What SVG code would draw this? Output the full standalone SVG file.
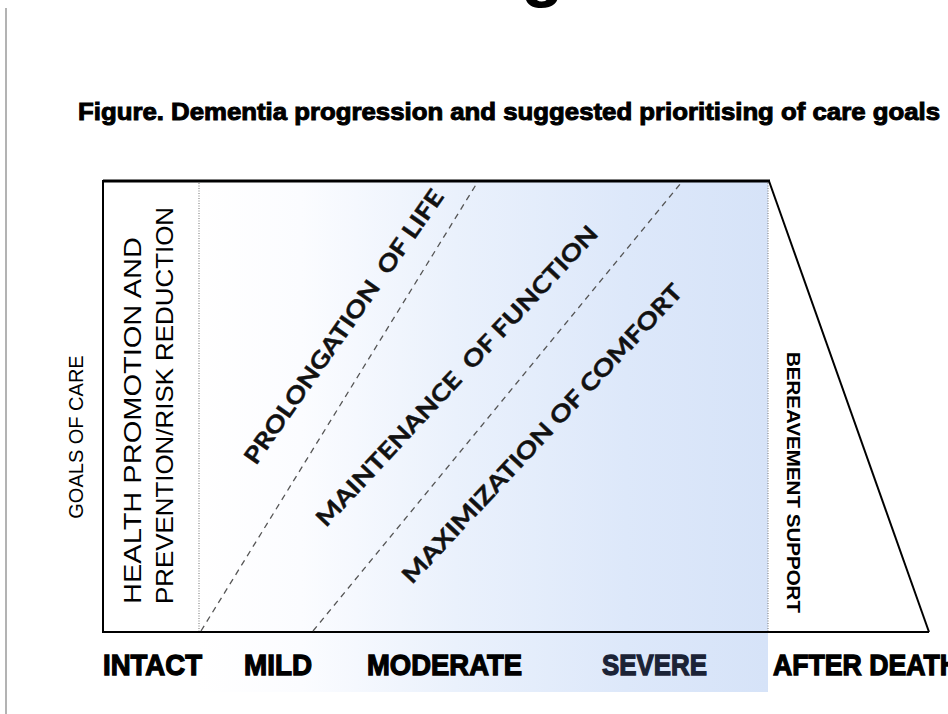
<svg xmlns="http://www.w3.org/2000/svg" width="948" height="714" viewBox="0 0 948 714">
  <defs>
    <linearGradient id="blue" gradientUnits="userSpaceOnUse" x1="199" y1="0" x2="768" y2="0">
      <stop offset="0" stop-color="#ffffff"/>
      <stop offset="0.18" stop-color="#fbfcff"/>
      <stop offset="0.45" stop-color="#eaf1fc"/>
      <stop offset="0.75" stop-color="#dde8fa"/>
      <stop offset="1" stop-color="#d6e3f8"/>
    </linearGradient>
    <style>
      .edge { stroke: #000; stroke-width: 2; fill: none; }
      .dot { stroke: #8a8a8a; stroke-width: 1.2; stroke-dasharray: 1 1.5; fill: none; }
      .dash { stroke: #555; stroke-width: 1.3; stroke-dasharray: 6 5; fill: none; }
      .axis { font-family: "Liberation Sans", Arial, sans-serif; font-weight: bold; font-size: 30px; fill: #000; stroke: #000; stroke-width: 1.3px; }
      .goal { font-family: Lato, "Open Sans", sans-serif; font-weight: bold; font-size: 23px; fill: #111; stroke: #111; stroke-width: 0.4px; white-space: pre; }
      .side { font-family: "Liberation Sans", Arial, sans-serif; fill: #000; }
    </style>
  </defs>

  <!-- page edge and cut-off heading -->
  <line x1="6" y1="8" x2="6" y2="714" stroke="#9a9a9a" stroke-width="1.5"/>
  <text x="521" y="-7" font-family="Liberation Sans, Arial, sans-serif" font-weight="bold" font-size="70">g</text>

  <!-- title -->
  <text id="title" x="78" y="120" font-family="Liberation Sans, Arial, sans-serif" font-weight="bold" font-size="24" stroke="#000" stroke-width="1" textLength="862" lengthAdjust="spacingAndGlyphs">Figure. Dementia progression and suggested prioritising of care goals</text>

  <!-- shaded dementia region -->
  <rect id="shade" x="199" y="182" width="569" height="510" fill="url(#blue)"/>

  <!-- frame -->
  <g id="frame">
    <line x1="103" y1="181" x2="770" y2="181" stroke="#000" stroke-width="3"/>
    <line class="edge" x1="103" y1="180" x2="103" y2="632"/>
    <line class="edge" x1="102" y1="632" x2="929" y2="632"/>
    <line class="edge" x1="769" y1="181" x2="929" y2="632"/>
    <line class="dot" x1="199" y1="183" x2="199" y2="631"/>
    <line class="dot" x1="768" y1="183" x2="768" y2="631"/>
  </g>

  <!-- connectors: dashed phase boundaries -->
  <g id="connectors">
    <line class="dash" x1="201" y1="631" x2="477" y2="183"/>
    <line class="dash" x1="313" y1="631" x2="681" y2="183"/>
  </g>

  <g id="goals-of-care">
    <text class="side" font-size="20" text-anchor="middle" transform="translate(83,437) rotate(-90)">GOALS OF CARE</text>
  </g>

  <g id="health-promotion">
    <text class="side" font-size="24" textLength="367" lengthAdjust="spacingAndGlyphs" transform="translate(141,604) rotate(-90)">HEALTH PROMOTION AND</text>
    <text class="side" font-size="24" textLength="397" lengthAdjust="spacingAndGlyphs" transform="translate(173,604) rotate(-90)">PREVENTION/RISK REDUCTION</text>
  </g>

  <g id="prolongation">
    <text class="goal" textLength="329" lengthAdjust="spacingAndGlyphs" transform="translate(256,466) rotate(-55)">PROLONGATION  OF LIFE</text>
  </g>

  <g id="maintenance">
    <text class="goal" textLength="401" lengthAdjust="spacingAndGlyphs" transform="translate(326,528) rotate(-47)">MAINTENANCE  OF FUNCTION</text>
  </g>

  <g id="maximization">
    <text class="goal" textLength="399" lengthAdjust="spacingAndGlyphs" transform="translate(412,585) rotate(-47)">MAXIMIZATION OF COMFORT</text>
  </g>

  <g id="bereavement">
    <text class="side" font-size="18" font-weight="bold" textLength="261" lengthAdjust="spacingAndGlyphs" transform="translate(787,352) rotate(90)">BEREAVEMENT SUPPORT</text>
  </g>

  <!-- stage labels -->
  <g id="stages">
    <text id="intact" class="axis" x="103" y="675" textLength="99" lengthAdjust="spacingAndGlyphs">INTACT</text>
    <text id="mild" class="axis" x="244" y="675" textLength="68" lengthAdjust="spacingAndGlyphs">MILD</text>
    <text id="moderate" class="axis" x="367" y="675" textLength="155" lengthAdjust="spacingAndGlyphs">MODERATE</text>
    <text id="severe" class="axis" x="602" y="675" textLength="105" lengthAdjust="spacingAndGlyphs" style="fill:#1b2336;stroke:#1b2336">SEVERE</text>
    <text id="after-death" class="axis" x="773" y="675" textLength="186" lengthAdjust="spacingAndGlyphs">AFTER DEATH</text>
  </g>
</svg>
